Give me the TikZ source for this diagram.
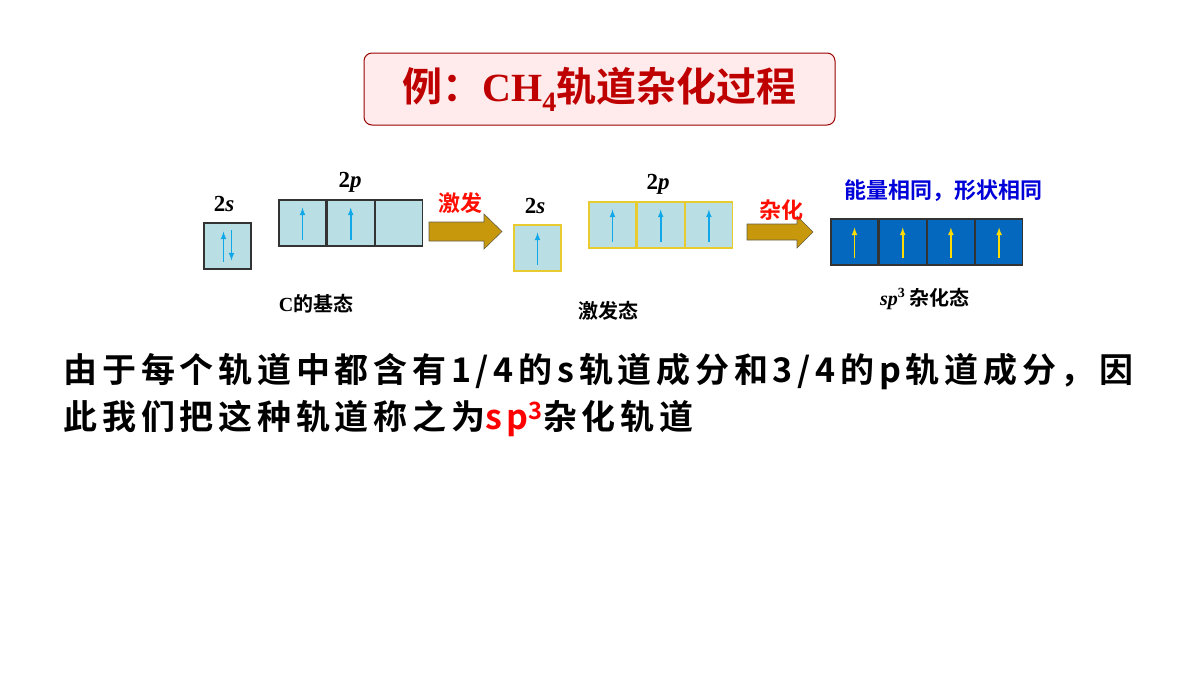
\documentclass[tikz,border=0pt]{standalone}
\usepackage{fontspec}
\setmainfont{Liberation Serif}
\newfontfamily\cjk{Noto Sans CJK SC}[BoldFont={* Bold}]
\newfontfamily\cjkwide{Noto Sans CJK SC}[BoldFont={* Bold},LetterSpace=14]
\definecolor{cellfill}{HTML}{B9DFE4}
\definecolor{sblue}{HTML}{0468BF}
\definecolor{gold}{HTML}{C8980C}
\definecolor{ecyan}{HTML}{10A8E8}
\begin{document}
\begin{tikzpicture}[x=1pt,y=-1pt,
 cell/.style={draw=#1,line width=1.2pt,minimum width=47pt,minimum height=46pt,inner sep=0pt},
 gcell/.style={cell=black!80,fill=cellfill},
 ycell/.style={cell=yellow!60!brown,fill=cellfill},
 bcell/.style={cell=black!80,fill=sblue},
 up/.style={-latex,line width=1.6pt,color=ecyan},
 bigarrow/.style={fill=gold,draw=yellow!30!black,line width=0.6pt},
 lab/.style={font=\bfseries\fontsize{23}{25}\selectfont},
 cn/.style={font=\cjk\bfseries\fontsize{22}{24}\selectfont},
 cs/.style={font=\cjk\bfseries\fontsize{20}{22}\selectfont},
 para/.style={anchor=west,font=\cjkwide\bfseries\fontsize{34}{36}\selectfont}]
\useasboundingbox (0,0) rectangle (1200,675);
\fill[white] (0,0) rectangle (1200,675);
\node[draw=red!60!black,fill=red!8,rounded corners=8pt,line width=1pt,minimum width=471pt,minimum height=72pt] (title) at (599.5,89)
 {\color{red!75!black}\cjk\bfseries\fontsize{40}{42}\selectfont 例：{\rmfamily CH\textsubscript{4}}轨道杂化过程};
% ground state
\node[gcell] (g2s) at (227.5,246) {};
\draw[up] ([xshift=-4]g2s.south) ++(0,-8) -- ++(0,-30);
\draw[up] ([xshift=4]g2s.north) ++(0,8) -- ++(0,30);
\node[lab] (l2s) at (224,204) {2\textit{s}};
\node[gcell] (gp1) at (302.5,223) {};
\node[gcell,anchor=west] (gp2) at (gp1.east) {};
\node[gcell,anchor=west] (gp3) at (gp2.east) {};
\foreach \c in {gp1,gp2}{\draw[up] (\c.south) ++(0,-7) -- ++(0,-32);}
\node[lab] (l2p) at (350,182) {2\textit{p}};
\node[cs] (cg) at (316,304) {{\rmfamily\bfseries C}的基态};
% arrow 1
\draw[bigarrow] (429,222) -- (484,222) -- (484,214) -- (502,231.5) -- (484,249) -- (484,241) -- (429,241) -- cycle;
\node[cn,text=red!90!orange] (jf) at (460,203) {激发};
% excited
\node[ycell] (e2s) at (537.5,248) {};
\draw[up] (e2s.south) ++(0,-7) -- ++(0,-32);
\node[lab] (le2s) at (535,206) {2\textit{s}};
\node[ycell] (ep1) at (612.5,225) {};
\node[ycell,anchor=west] (ep2) at (ep1.east) {};
\node[ycell,anchor=west] (ep3) at (ep2.east) {};
\foreach \c in {ep1,ep2,ep3}{\draw[up] (\c.south) ++(0,-7) -- ++(0,-32);}
\node[lab] (le2p) at (658,184) {2\textit{p}};
\node[cs] (ex) at (608,311) {激发态};
% arrow 2
\draw[bigarrow] (747,224) -- (797,224) -- (797,216) -- (813,232) -- (797,248) -- (797,240) -- (747,240) -- cycle;
\node[cn,text=red!90!orange] (zh) at (781,210) {杂化};
% sp3
\node[bcell] (s1) at (854.5,242) {};
\node[bcell,anchor=west] (s2) at (s1.east) {};
\node[bcell,anchor=west] (s3) at (s2.east) {};
\node[bcell,anchor=west] (s4) at (s3.east) {};
\foreach \c in {s1,s2,s3,s4}{\draw[-latex,line width=1.6pt,yellow!80!orange] (\c.south) ++(0,-8) -- ++(0,-30);}
\node[cn,text=blue!85!black] (same) at (943,191) {能量相同，形状相同};
\node[cs] (sp) at (925,299) {{\rmfamily\bfseries\itshape sp{\upshape\textsuperscript{3}}} 杂化态};
% paragraph
\node[para] (p1) at (60,372) {由于每个轨道中都含有1/4的s轨道成分和3/4的p轨道成分，因};
\node[para] (p2) at (60,418) {此我们把这种轨道称之为{\color{red}sp\textsuperscript{3}}杂化轨道};
\end{tikzpicture}
\end{document}
